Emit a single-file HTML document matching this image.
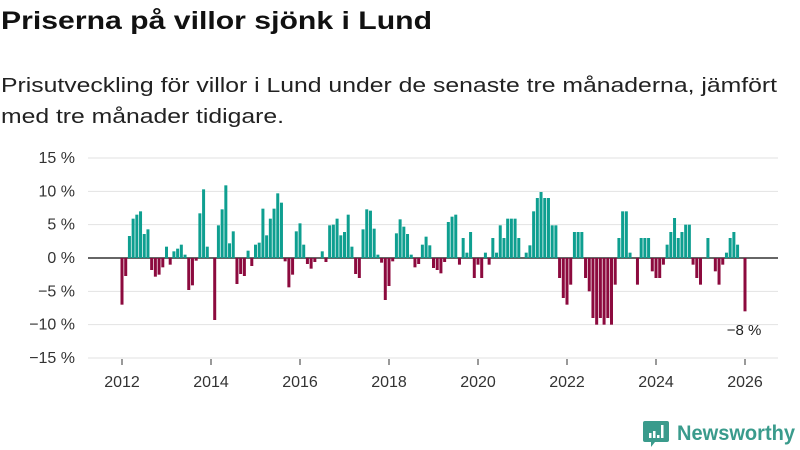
<!DOCTYPE html>
<html><head><meta charset="utf-8">
<style>
html,body{margin:0;padding:0;background:#fff;width:800px;height:450px;overflow:hidden}
svg{display:block;font-family:"Liberation Sans",sans-serif}
</style></head>
<body>
<svg id="chart" width="800" height="450" viewBox="0 0 800 450">
<text x="1" y="29" font-size="25" font-weight="bold" fill="#111" textLength="431" lengthAdjust="spacingAndGlyphs">Priserna på villor sjönk i Lund</text>
<text x="1" y="92" font-size="20" fill="#222" textLength="776" lengthAdjust="spacingAndGlyphs">Prisutveckling för villor i Lund under de senaste tre månaderna, jämfört</text>
<text x="1" y="123" font-size="20" fill="#222" textLength="283" lengthAdjust="spacingAndGlyphs">med tre månader tidigare.</text>
<g id="grid"></g>
<g id="bars"></g>
<g id="xaxis"></g>
<text x="744" y="335" font-size="15" fill="#222" text-anchor="middle">−8 %</text>
<g>
<path d="M645 421 h22 a2 2 0 0 1 2 2 v17 a2 2 0 0 1 -2 2 h-12 l-4 5 v-5 h-6 a2 2 0 0 1 -2 -2 v-17 a2 2 0 0 1 2 -2z" fill="#3a9b8c"/>
<rect x="649" y="433" width="2.5" height="5" fill="#fff"/>
<rect x="653" y="431" width="2.5" height="7" fill="#fff"/>
<rect x="657" y="435" width="2.5" height="3" fill="#fff"/>
<rect x="661" y="425" width="2.5" height="13" fill="#fff"/>
<text x="677" y="440" font-size="21" font-weight="bold" fill="#3a9b8c" textLength="118" lengthAdjust="spacingAndGlyphs">Newsworthy</text>
</g>
</svg>
<script>
const yTicks = [15,10,5,0,-5,-10,-15];
const yTickLabels = ["15 %","10 %","5 %","0 %","−5 %","−10 %","−15 %"];
const xTickYears = [2012,2014,2016,2018,2020,2022,2024,2026];
const startYear = 2012;
const values = [
-7.0,-2.7,3.3,5.9,6.5,7.0,3.6,4.3,-1.8,-2.8,-2.5,-1.4,
1.7,-1.0,1.0,1.4,2.0,0.5,-4.8,-4.1,-0.4,6.7,10.3,1.7,
0,-9.3,4.9,7.3,10.9,2.2,4.0,-3.9,-2.4,-2.7,1.1,-1.2,
2.0,2.3,7.4,3.4,5.9,7.4,9.7,8.3,-0.5,-4.4,-2.5,4.0,
5.2,2.0,-0.9,-1.6,-0.6,0,1.0,-0.6,4.9,5.0,5.9,3.4,
3.9,6.5,1.7,-2.4,-3.0,4.3,7.3,7.1,4.4,0.5,-0.7,-6.3,
-4.2,-0.5,3.7,5.8,4.7,3.6,0.5,-1.4,-0.9,2.0,3.2,1.9,
-1.5,-1.8,-2.3,-0.6,5.4,6.2,6.5,-1.0,3.0,0.8,3.9,-3.0,
-1.0,-3.0,0.8,-1.0,3.0,0.8,4.9,3.0,5.9,5.9,5.9,3.0,
0,0.8,1.9,7.0,9.0,9.9,9.0,9.0,4.9,4.9,-3.0,-6.0,
-7.0,-4.0,3.9,3.9,3.9,-3.0,-5.0,-9.0,-10,-9.0,-10,-9.0,
-10,-4.0,3.0,7.0,7.0,0.8,0,-4.0,3.0,3.0,3.0,-2.0,
-3.0,-3.0,-1.0,2.0,3.9,6.0,3.0,3.9,5.0,5.0,-1.0,-3.0,
-4.0,0,3.0,0,-2.0,-4.0,-1.0,0.8,3.0,3.9,2.0,0,
-8.0
];
const NS="http://www.w3.org/2000/svg";
const x0=122, monthW=44.5/12;
function xScale(i){return x0+i*monthW;}
function yScale(v){return 258-v*(200/30);}
const grid=document.getElementById('grid');
yTicks.forEach((t,k)=>{
  const l=document.createElementNS(NS,'line');
  l.setAttribute('x1',88);l.setAttribute('x2',778);
  l.setAttribute('y1',yScale(t));l.setAttribute('y2',yScale(t));
  l.setAttribute('stroke',t===0?'#333':'#e2e2e2');
  l.setAttribute('stroke-width',t===0?1.5:1);
  
  
  grid.appendChild(l);
  const tx=document.createElementNS(NS,'text');
  tx.setAttribute('x',75);tx.setAttribute('y',yScale(t)+5);
  tx.setAttribute('text-anchor','end');tx.setAttribute('font-size','16');tx.setAttribute('fill','#333');
  tx.textContent=yTickLabels[k];
  
  
  grid.appendChild(tx);
});
const bars=document.getElementById('bars');
values.forEach((v,i)=>{
  if(v===0)return;
  const r=document.createElementNS(NS,'rect');
  const y=Math.min(yScale(v),yScale(0));
  r.setAttribute('x',xScale(i)-1.5);r.setAttribute('width',3);
  r.setAttribute('y',y);r.setAttribute('height',Math.abs(yScale(v)-yScale(0)));
  r.setAttribute('fill',v>0?'#0e9f90':'#8c0a3e');
  
  
  bars.appendChild(r);
});
const xa=document.getElementById('xaxis');
xTickYears.forEach(yr=>{
  const x=xScale((yr-startYear)*12);
  const l=document.createElementNS(NS,'line');
  l.setAttribute('x1',x);l.setAttribute('x2',x);l.setAttribute('y1',359);l.setAttribute('y2',365);
  l.setAttribute('stroke','#333');
  
  
  xa.appendChild(l);
  const t=document.createElementNS(NS,'text');
  t.setAttribute('x',x);t.setAttribute('y',387);t.setAttribute('text-anchor','middle');
  t.setAttribute('font-size','16');t.setAttribute('fill','#333');
  t.textContent=yr;
  
  
  xa.appendChild(t);
});
</script>
</body></html>
